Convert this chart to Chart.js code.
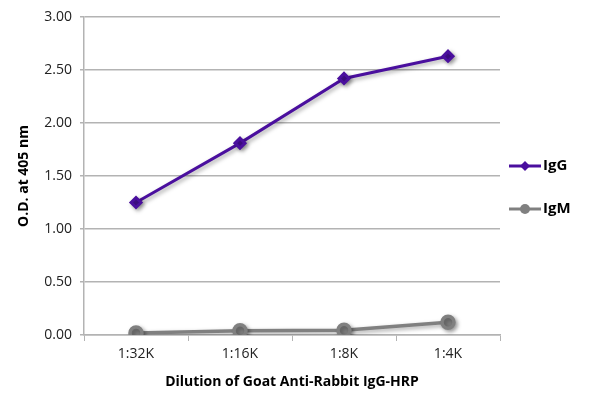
<!DOCTYPE html>
<html>
<head>
<meta charset="utf-8">
<script src="https://cdn.jsdelivr.net/npm/chart.js@4"></script>
<style>
  html, body { margin: 0; padding: 0; background: #fff; }
  #wrap { width: 600px; height: 404px; }
</style>
</head>
<body>
<div id="wrap"><canvas id="chart"></canvas></div>
<script>
const dilutions = ['1:32K', '1:16K', '1:8K', '1:4K'];
const igG = [1.25, 1.81, 2.42, 2.63];
const igM = [0.02, 0.04, 0.045, 0.12];
const yTicks = [0, 0.5, 1, 1.5, 2, 2.5, 3];

const FONT = "'Open Sans', sans-serif";
const GRID = '#b3b3b3';

// soft drop shadow under the lines, like the original figure
const shadowPlugin = {
    id: 'shadow',
    beforeDatasetsDraw(chart) {
        const ctx = chart.ctx;
        ctx.save();
        ctx.shadowColor = 'rgba(0,0,0,0.35)';
        ctx.shadowBlur = 4;
        ctx.shadowOffsetX = 2;
        ctx.shadowOffsetY = 2;
    },
    afterDatasetsDraw(chart) {
        chart.ctx.restore();
    }
};

// legend with line + marker, drawn on the right
const sideLegend = {
    id: 'sideLegend',
    afterDraw(chart) {
        const ctx = chart.ctx;
        const items = [
            {label: 'IgG', y: 166},
            {label: 'IgM', y: 209}
        ];
        ctx.save();
        items.forEach((it, i) => {
            const ds = chart.data.datasets[i];
            ctx.strokeStyle = ds.borderColor;
            ctx.lineWidth = 3;
            ctx.beginPath();
            ctx.moveTo(509, it.y);
            ctx.lineTo(541, it.y);
            ctx.stroke();
            ctx.fillStyle = ds.borderColor;
            ctx.beginPath();
            if (ds.pointStyle === 'rectRot') {
                ctx.moveTo(525, it.y - 5);
                ctx.lineTo(530, it.y);
                ctx.lineTo(525, it.y + 5);
                ctx.lineTo(520, it.y);
                ctx.closePath();
            } else {
                ctx.arc(525, it.y, 5, 0, Math.PI * 2);
            }
            ctx.fill();
            ctx.fillStyle = '#000';
            ctx.font = "bold 15px " + FONT;
            ctx.textBaseline = 'middle';
            ctx.textAlign = 'left';
            ctx.fillText(it.label, 543, it.y);
        });
        ctx.restore();
    }
};

new Chart(document.getElementById('chart'), {
    type: 'line',
    data: {
        labels: dilutions,
        datasets: [
            {
                label: 'IgG',
                data: igG,
                borderColor: '#4a0f9e',
                backgroundColor: '#4a0f9e',
                borderWidth: 3,
                pointStyle: 'rectRot',
                pointRadius: 5,
                pointHoverRadius: 5,
                tension: 0
            },
            {
                label: 'IgM',
                data: igM,
                borderColor: '#808080',
                backgroundColor: '#808080',
                borderWidth: 3.5,
                pointStyle: 'circle',
                pointRadius: 6,
                pointHoverRadius: 6,
                tension: 0
            }
        ]
    },
    options: {
        responsive: true,
        maintainAspectRatio: false,
        animation: false,
        layout: {padding: {left: 0, right: 100, top: 17, bottom: 0}},
        plugins: {
            legend: {display: false},
            tooltip: {enabled: false}
        },
        scales: {
            x: {
                offset: true,
                afterFit: s => { s.height = 69; },
                grid: {
                    offset: true,
                    drawOnChartArea: false,
                    drawTicks: true,
                    tickLength: 6,
                    color: GRID
                },
                border: {color: GRID, width: 1.5},
                ticks: {
                    color: '#222',
                    font: {family: FONT, size: 14},
                    padding: 5
                },
                title: {
                    display: true,
                    text: 'Dilution of Goat Anti-Rabbit IgG-HRP',
                    color: '#000',
                    font: {family: FONT, size: 14, weight: 'bold'},
                    padding: {top: 10, bottom: 14}
                }
            },
            y: {
                min: 0,
                max: 3,
                afterFit: s => { s.width = 84; },
                afterBuildTicks: s => { s.ticks = yTicks.map(v => ({value: v})); },
                grid: {
                    color: GRID,
                    lineWidth: 1.5,
                    tickLength: 4
                },
                border: {color: GRID, width: 1.5},
                ticks: {
                    color: '#222',
                    font: {family: FONT, size: 14},
                    padding: 8,
                    callback: v => v.toFixed(2)
                },
                title: {
                    display: true,
                    text: 'O.D. at 405 nm',
                    color: '#000',
                    font: {family: FONT, size: 14, weight: 'bold'},
                    padding: {top: 16, bottom: 0}
                }
            }
        }
    },
    plugins: [shadowPlugin, sideLegend]
});
</script>
</body>
</html>
